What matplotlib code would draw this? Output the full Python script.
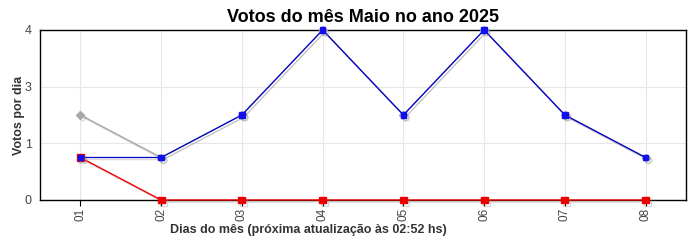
import matplotlib
matplotlib.use('Agg')
import matplotlib.pyplot as plt
import matplotlib.patheffects as pe

plt.rcParams['font.family'] = ['Liberation Sans', 'DejaVu Sans']

dias = ['01', '02', '03', '04', '05', '06', '07', '08']
total = [2, 1, 2, 4, 2, 4, 2, 1]
azul = [1, 1, 2, 4, 2, 4, 2, 1]
vermelho = [1, 0, 0, 0, 0, 0, 0, 0]
yticks = [0, 4 / 3, 8 / 3, 4]
ylabels = ['0', '1', '3', '4']

fig = plt.figure(figsize=(7, 2.5), dpi=100)
ax = fig.add_axes([40 / 700, 50 / 250, 646 / 700, 170 / 250])

x = range(len(dias))
shadow = [pe.SimpleLineShadow(offset=(1.5, -1.5), shadow_color='#999999', alpha=0.35), pe.Normal()]

ax.plot(x, total, color='#a8a8a8', lw=1.0, marker='D', markersize=4, path_effects=shadow,
        zorder=3, clip_on=False)
ax.plot(x, vermelho, color='#ee0000', lw=1.0, marker='s', markersize=5, path_effects=shadow,
        zorder=4, clip_on=False)
ax.plot(x, azul, color='#0000cc', lw=0.9, marker='s', markersize=4, markerfacecolor='#1010ee',
        markeredgecolor='#1010ee', path_effects=shadow, zorder=5, clip_on=False)

ax.set_xlim(-0.5, 7.5)
ax.set_ylim(0, 4)
ax.set_xticks(list(x))
ax.set_xticklabels(dias, rotation=90, fontsize=8.5, color='#444444')
ax.set_yticks(yticks)
ax.set_yticklabels(ylabels, fontsize=9, color='#444444')
ax.tick_params(axis='y', length=0, pad=6)
ax.tick_params(axis='x', length=4, width=0.8, pad=1.5)
ax.grid(True, color='#e6e6e6', lw=0.8)
ax.set_axisbelow(True)
for s in ax.spines.values():
    s.set_linewidth(1.0)
    s.set_color('black')

ax.set_title('Votos do mês Maio no ano 2025', fontsize=13, fontweight='bold', pad=6)
ax.set_ylabel('Votos por dia', fontsize=9, fontweight='bold', color='#333333')
ax.set_xlabel('Dias do mês (próxima atualização às 02:52 hs)', fontsize=9, fontweight='bold',
              color='#333333')
ax.xaxis.set_label_coords(0.415, -0.175)
ax.yaxis.set_label_coords(-21 / 646, 0.5)
ax.xaxis.label.set_va('center')
ax.yaxis.label.set_va('center')

plt.savefig('out.png', dpi=100)
